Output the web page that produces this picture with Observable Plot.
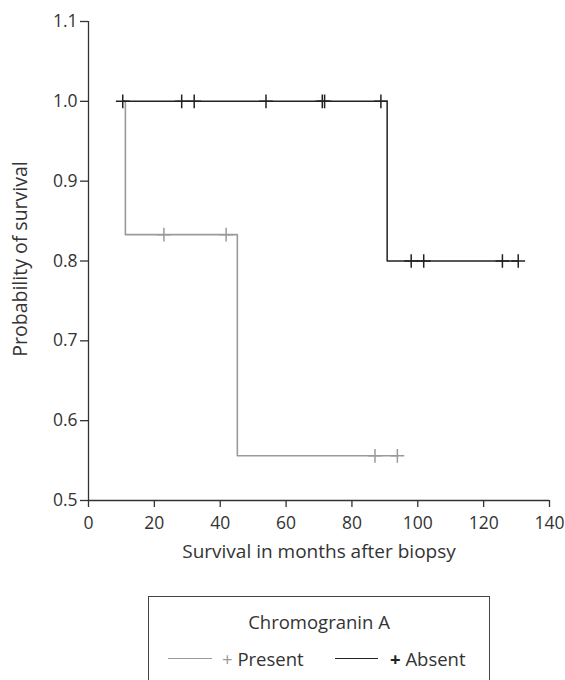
<!DOCTYPE html>
<html><head><meta charset="utf-8">
<script src="https://cdn.jsdelivr.net/npm/d3@7"></script>
<script src="https://cdn.jsdelivr.net/npm/@observablehq/plot@0.6"></script>
<style>
html,body{margin:0;padding:0;background:#fff;overflow:hidden;}
#wrap{position:relative;width:565px;height:680px;font-family:"Open Sans",sans-serif;color:#333;}
#chart{position:absolute;left:0;top:0;}
#legendBox{position:absolute;left:148px;top:596px;width:342px;height:120px;border:1.5px solid #444;box-sizing:border-box;}
.lg{position:absolute;font-size:18.5px;line-height:22px;white-space:nowrap;color:#333;}
.sw{position:absolute;height:0;}
</style>
</head><body>
<div id="wrap">
  <div id="chart"></div>
  <div id="legendBox"></div>
  <div id="legendItems"></div>
</div>
<script>
const xTicks = [0, 20, 40, 60, 80, 100, 120, 140];
const yTicks = [0.5, 0.6, 0.7, 0.8, 0.9, 1.0, 1.1];
const xLabel = "Survival in months after biopsy";
const yLabel = "Probability of survival";
const legendTitle = "Chromogranin A";
const groups = ["Present", "Absent"];
const groupColors = ["#9a9a9a", "#222222"];

// Step curves (time, survival)
const presentTime = [10.4, 11.2, 45.2, 93.8];
const presentSurv = [1.0, 0.833, 0.556, 0.556];
const absentTime = [10.4, 90.7, 130.5];
const absentSurv = [1.0, 0.8, 0.8];

// Censored observations
const presentCensorTime = [22.9, 41.8, 87.0, 93.8];
const presentCensorSurv = [0.833, 0.833, 0.556, 0.556];
const absentCensorTime = [10.4, 28.3, 32.1, 53.9, 71.0, 71.7, 88.8, 98.0, 101.8, 125.7, 130.5];
const absentCensorSurv = [1, 1, 1, 1, 1, 1, 1, 0.8, 0.8, 0.8, 0.8];

const toRows = (ts, ss) => ts.map((t, i) => ({t, s: ss[i]}));
const presentCurve = toRows(presentTime, presentSurv);
const absentCurve = toRows(absentTime, absentSurv);
const presentCens = toRows(presentCensorTime, presentCensorSurv);
const absentCens = toRows(absentCensorTime, absentCensorSurv);

const axisColor = "#333";
const chart = Plot.plot({
  width: 565,
  height: 580,
  marginLeft: 88,
  marginRight: 16,
  marginTop: 21,
  marginBottom: 80,
  style: {fontFamily: "'Open Sans', sans-serif", fontSize: "17.5px", color: axisColor, background: "#fff"},
  x: {domain: [0, 140]},
  y: {domain: [0.5, 1.1]},
  marks: [
    Plot.axisX({ticks: xTicks, tickSize: 7, tickPadding: 9, label: null, strokeWidth: 1.3}),
    Plot.axisY({ticks: yTicks, tickSize: 8, tickPadding: 3, tickFormat: d3.format(".1f"), label: null, strokeWidth: 1.3}),
    Plot.ruleX([0], {stroke: axisColor, strokeWidth: 1.3}),
    Plot.ruleY([0.5], {stroke: axisColor, strokeWidth: 1.3}),
    Plot.line(presentCurve, {x: "t", y: "s", curve: "step-after", stroke: groupColors[0], strokeWidth: 1.6}),
    Plot.dot(presentCens, {x: "t", y: "s", symbol: "plus", r: 4.5, stroke: groupColors[0], strokeWidth: 1.5}),
    Plot.line(absentCurve, {x: "t", y: "s", curve: "step-after", stroke: groupColors[1], strokeWidth: 1.5}),
    Plot.dot(absentCens, {x: "t", y: "s", symbol: "plus", r: 4.5, stroke: groupColors[1], strokeWidth: 1.5}),
    Plot.text([xLabel], {text: d => d, frameAnchor: "bottom", dy: 57, fontSize: 19, fill: axisColor}),
    Plot.text([yLabel], {text: d => d, frameAnchor: "left", textAnchor: "middle", dx: -68, dy: -2, rotate: -90, fontSize: 19.5, fill: axisColor})
  ]
});
document.getElementById("chart").appendChild(chart);

// Legend (HTML below the SVG)
const li = document.getElementById("legendItems");
li.innerHTML = `
  <div class="lg" style="left:148px;width:342px;text-align:center;top:611px;">${legendTitle}</div>
  <div class="sw" style="left:168px;top:658px;width:44px;border-top:1.5px solid ${groupColors[0]};"></div>
  <div class="lg" style="left:222px;top:648px;"><span style="color:${groupColors[0]}">+</span> ${groups[0]}</div>
  <div class="sw" style="left:335px;top:658px;width:43px;border-top:1.5px solid ${groupColors[1]};"></div>
  <div class="lg" style="left:390px;top:648px;"><span style="color:${groupColors[1]};font-weight:bold">+</span> ${groups[1]}</div>
`;
</script>
</body></html>
